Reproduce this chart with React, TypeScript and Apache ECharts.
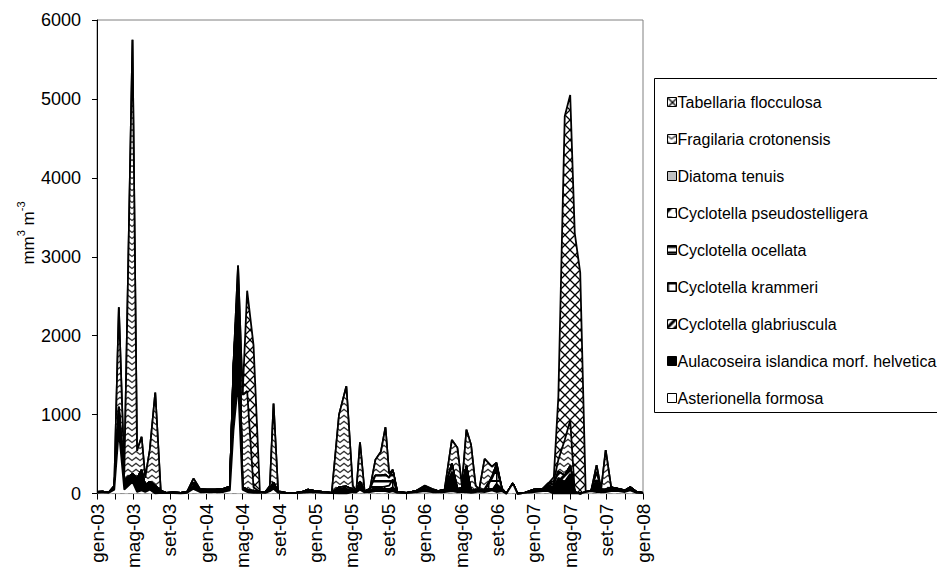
import React, { useEffect, useRef } from 'react';
import * as echarts from 'echarts';

// Sampling dates: months elapsed since 1 Jan 2003
const sampleMonths = [
  0, 0.6, 1.3, 1.9, 2.4, 3.0, 3.9, 4.4, 4.9, 5.3,
  5.8, 6.4, 7.0, 7.6, 8.4, 9.2, 9.9, 10.6, 11.3, 12.1,
  13.0, 13.9, 14.6, 15.0, 15.5, 16.0, 16.5, 17.2, 17.9, 18.5,
  19.0, 19.4, 19.9, 20.8, 21.7, 22.5, 23.2, 24.0, 24.8, 25.8,
  26.6, 27.4, 28.1, 28.5, 28.9, 29.4, 30.0, 30.6, 31.2, 31.7,
  32.1, 32.5, 33.0, 34.0, 35.0, 36.0, 36.8, 37.5, 38.2, 39.0,
  39.6, 40.1, 40.6, 41.1, 41.6, 42.0, 42.6, 43.4, 43.9, 44.5,
  45.0, 45.7, 46.2, 47.0, 48.0, 49.0, 49.6, 50.2, 50.7, 51.4,
  52.0, 52.5, 53.1, 53.7, 54.3, 54.9, 55.4, 55.9, 56.5, 57.3,
  58.0, 58.6, 59.3, 60.0,
];

const asterionella = [
  10, 15, 10, 50, 800, 50, 150, 20, 40, 20,
  50, 0, 10, 5, 5, 0, 10, 60, 20, 20,
  20, 20, 40, 800, 1400, 50, 20, 10, 10, 10,
  30, 60, 10, 5, 5, 10, 20, 15, 10, 5,
  0, 0, 20, 15, 50, 15, 20, 30, 30, 30,
  20, 30, 10, 5, 15, 30, 20, 15, 20, 30,
  20, 20, 20, 10, 20, 25, 20, 40, 20, 30,
  0, 130, 0, 10, 20, 30, 30, 0, 0, 0,
  0, 0, 0, 20, 30, 20, 20, 20, 30, 30,
  20, 40, 10, 5,
];

const aulacoseira = [
  10, 10, 5, 30, 150, 120, 100, 170, 260, 80,
  100, 100, 20, 5, 10, 10, 10, 40, 30, 30,
  30, 40, 50, 600, 900, 30, 30, 20, 10, 10,
  30, 80, 10, 5, 0, 10, 20, 15, 10, 5,
  60, 60, 30, 15, 100, 15, 20, 0, 0, 30,
  30, 50, 10, 5, 15, 30, 30, 15, 30, 250,
  40, 50, 330, 20, 30, 25, 20, 0, 100, 30,
  0, 0, 0, 0, 30, 30, 80, 80, 200, 150,
  250, 20, 0, 0, 0, 150, 30, 30, 50, 30,
  20, 40, 10, 5,
];

const glabriuscula = [
  0, 0, 0, 0, 100, 0, 0, 0, 0, 0,
  0, 0, 0, 0, 0, 0, 0, 40, 0, 0,
  0, 0, 0, 120, 200, 0, 0, 0, 0, 0,
  0, 0, 0, 0, 0, 0, 10, 0, 0, 0,
  20, 30, 0, 0, 0, 0, 0, 0, 0, 0,
  0, 0, 0, 0, 0, 20, 0, 0, 0, 100,
  0, 0, 0, 0, 0, 0, 0, 0, 0, 0,
  0, 0, 0, 0, 0, 0, 20, 30, 80, 80,
  100, 0, 0, 0, 0, 0, 0, 0, 0, 0,
  0, 0, 0, 0,
];

const krammeri = [
  0, 0, 0, 0, 50, 0, 0, 0, 0, 0,
  0, 0, 0, 0, 0, 0, 0, 0, 0, 0,
  0, 0, 0, 60, 100, 0, 0, 0, 0, 0,
  0, 0, 0, 0, 0, 0, 0, 0, 0, 0,
  0, 0, 0, 0, 0, 0, 0, 50, 50, 30,
  50, 100, 0, 0, 0, 0, 0, 0, 0, 0,
  0, 0, 0, 0, 0, 0, 0, 150, 200, 0,
  0, 0, 0, 0, 0, 0, 0, 0, 0, 0,
  0, 0, 0, 0, 0, 100, 0, 0, 0, 0,
  0, 0, 0, 0,
];

const ocellata = [
  0, 0, 0, 0, 0, 0, 0, 0, 0, 0,
  0, 0, 0, 0, 0, 0, 0, 0, 0, 0,
  0, 0, 0, 30, 50, 0, 0, 0, 0, 0,
  0, 0, 0, 0, 0, 0, 0, 0, 0, 0,
  0, 0, 0, 0, 0, 0, 20, 150, 150, 150,
  100, 120, 0, 0, 0, 0, 0, 0, 0, 0,
  0, 0, 0, 0, 0, 0, 0, 20, 50, 0,
  0, 0, 0, 0, 0, 0, 0, 0, 0, 0,
  0, 0, 0, 0, 0, 0, 0, 0, 0, 0,
  0, 0, 0, 0,
];

const pseudostelligera = [
  0, 0, 0, 0, 0, 0, 0, 0, 0, 0,
  0, 0, 0, 0, 0, 0, 0, 0, 0, 0,
  0, 0, 0, 0, 50, 0, 0, 0, 0, 0,
  0, 0, 0, 0, 0, 0, 0, 0, 0, 0,
  0, 0, 0, 0, 0, 0, 0, 0, 0, 0,
  0, 0, 0, 0, 0, 0, 0, 0, 0, 0,
  0, 0, 0, 0, 0, 0, 0, 0, 0, 0,
  0, 0, 0, 0, 0, 0, 0, 0, 0, 0,
  0, 0, 0, 0, 0, 0, 0, 0, 0, 0,
  0, 0, 0, 0,
];

const diatoma = [
  0, 0, 0, 0, 0, 0, 0, 0, 0, 0,
  0, 0, 0, 0, 0, 0, 0, 0, 0, 0,
  0, 0, 0, 0, 0, 0, 0, 0, 0, 0,
  0, 0, 0, 0, 0, 0, 0, 0, 0, 0,
  0, 0, 0, 0, 0, 0, 0, 0, 0, 0,
  0, 0, 0, 0, 0, 0, 0, 0, 0, 0,
  0, 0, 0, 0, 0, 0, 20, 0, 0, 0,
  0, 0, 0, 0, 0, 0, 0, 0, 0, 0,
  0, 0, 0, 0, 0, 0, 0, 0, 0, 0,
  0, 0, 0, 0,
];

const fragilaria = [
  0, 0, 0, 20, 1260, 80, 5500, 350, 420, 100,
  400, 1180, 10, 0, 0, 0, 0, 50, 10, 0,
  0, 0, 0, 30, 190, 1170, 1250, 50, 0, 0,
  40, 1000, 10, 0, 0, 0, 0, 0, 0, 0,
  920, 1270, 50, 0, 500, 0, 0, 200, 300, 600,
  50, 0, 0, 0, 0, 20, 10, 0, 0, 300,
  520, 30, 460, 590, 50, 0, 380, 130, 20, 0,
  0, 0, 0, 0, 0, 0, 0, 50, 150, 450,
  580, 0, 0, 0, 0, 90, 0, 500, 0, 0,
  0, 0, 0, 0,
];

const tabellaria = [
  0, 0, 0, 0, 0, 0, 0, 0, 0, 0,
  0, 0, 0, 0, 0, 0, 0, 0, 0, 0,
  0, 0, 0, 0, 0, 0, 1270, 1800, 0, 0,
  0, 0, 0, 0, 0, 0, 0, 0, 0, 0,
  0, 0, 0, 0, 0, 0, 0, 0, 0, 0,
  0, 0, 0, 0, 0, 0, 0, 0, 0, 0,
  0, 0, 0, 0, 0, 0, 0, 0, 0, 0,
  0, 0, 0, 0, 0, 0, 0, 50, 800, 4100,
  4120, 3280, 2800, 0, 0, 0, 0, 0, 0, 0,
  0, 0, 0, 0,
];

const xTickLabels = [
  'gen-03', 'mag-03', 'set-03', 'gen-04', 'mag-04', 'set-04', 'gen-05', 'mag-05',
  'set-05', 'gen-06', 'mag-06', 'set-06', 'gen-07', 'mag-07', 'set-07', 'gen-08',
];

// Legend order (top to bottom), stack is the reverse
const speciesNames = [
  'Tabellaria flocculosa',
  'Fragilaria crotonensis',
  'Diatoma tenuis',
  'Cyclotella pseudostelligera',
  'Cyclotella ocellata',
  'Cyclotella krammeri',
  'Cyclotella glabriuscula',
  'Aulacoseira islandica morf. helvetica',
  'Asterionella formosa',
];

const FONT = '"Liberation Sans", Arial, Helvetica, sans-serif';

function makePattern(w: number, h: number, draw: (ctx: CanvasRenderingContext2D) => void) {
  const c = document.createElement('canvas');
  c.width = w;
  c.height = h;
  const ctx = c.getContext('2d') as CanvasRenderingContext2D;
  ctx.fillStyle = '#ffffff';
  ctx.fillRect(0, 0, w, h);
  draw(ctx);
  return { image: c, repeat: 'repeat' } as any;
}

function buildFills(): any[] {
  const tab = makePattern(10, 10, (ctx) => {
    ctx.strokeStyle = '#000';
    ctx.lineWidth = 1.3;
    ctx.beginPath();
    ctx.moveTo(-2, -2); ctx.lineTo(12, 12);
    ctx.moveTo(12, -2); ctx.lineTo(-2, 12);
    ctx.stroke();
  });
  const fra = makePattern(8, 6, (ctx) => {
    ctx.strokeStyle = '#333';
    ctx.lineWidth = 1.3;
    ctx.beginPath();
    ctx.moveTo(-1, 0.5); ctx.lineTo(4, 4.5); ctx.lineTo(9, 0.5);
    ctx.stroke();
  });
  const dia = '#c0c0c0';
  const pse = makePattern(8, 8, (ctx) => {
    ctx.fillStyle = '#000';
    ctx.beginPath();
    ctx.moveTo(0, 0); ctx.lineTo(5, 0); ctx.lineTo(0, 5); ctx.closePath();
    ctx.fill();
  });
  const oce = makePattern(6, 6, (ctx) => {
    ctx.fillStyle = '#000';
    ctx.fillRect(0, 0, 6, 2.5);
  });
  const kra = makePattern(8, 8, (ctx) => {
    ctx.fillStyle = '#000';
    ctx.fillRect(0, 0, 8, 2);
    ctx.fillRect(0, 0, 1.5, 8);
  });
  const gla = makePattern(8, 8, (ctx) => {
    ctx.strokeStyle = '#000';
    ctx.lineWidth = 3;
    ctx.beginPath();
    ctx.moveTo(-2, 10); ctx.lineTo(10, -2);
    ctx.moveTo(-6, 6); ctx.lineTo(6, -6);
    ctx.moveTo(2, 14); ctx.lineTo(14, 2);
    ctx.stroke();
  });
  const aul = '#000000';
  const ast = '#ffffff';
  return [tab, fra, dia, pse, oce, kra, gla, aul, ast];
}

export default function App() {
  const ref = useRef<HTMLDivElement>(null);

  useEffect(() => {
    if (!ref.current) return;
    const chart = echarts.init(ref.current, null, { renderer: 'svg' });
    const fills = buildFills();

    // legend order -> values
    const valuesByLegend = [
      tabellaria, fragilaria, diatoma, pseudostelligera, ocellata,
      krammeri, glabriuscula, aulacoseira, asterionella,
    ];
    // cumulative stacking from bottom (last in legend) to top (first)
    const n = sampleMonths.length;
    const cumByLegend: number[][] = new Array(valuesByLegend.length);
    const running = new Array(n).fill(0);
    for (let k = valuesByLegend.length - 1; k >= 0; k--) {
      for (let i = 0; i < n; i++) running[i] += valuesByLegend[k][i];
      cumByLegend[k] = running.slice();
    }

    // draw top-most cumulative first so lower layers paint over it
    const series = speciesNames.map((name, k) => ({
      name,
      type: 'line',
      data: sampleMonths.map((m, i) => [m, cumByLegend[k][i]]),
      symbol: 'none',
      showSymbol: false,
      smooth: false,
      lineStyle: { color: '#000', width: 1.8 },
      itemStyle: { color: fills[k] },
      areaStyle: { color: fills[k], opacity: 1 },
      z: 2 + k,
      silent: true,
    }));

    const option: any = {
      animation: false,
      backgroundColor: '#ffffff',
      grid: {
        left: 97, top: 20, width: 546, height: 477,
        show: true, borderColor: '#808080', borderWidth: 1, backgroundColor: 'transparent',
      },
      xAxis: {
        type: 'value',
        min: 0, max: 60, interval: 2,
        axisLine: { show: true, onZero: false, lineStyle: { color: '#000', width: 1 } },
        axisTick: { show: true, inside: false, length: 6, lineStyle: { color: '#000' } },
        splitLine: { show: false },
        axisLabel: {
          rotate: 90,
          margin: 10,
          fontFamily: FONT,
          fontSize: 19,
          color: '#000',
          formatter: (v: number) => (Math.round(v) % 4 === 0 ? xTickLabels[Math.round(v) / 4] : ''),
        },
      },
      yAxis: {
        type: 'value',
        min: 0, max: 6000, interval: 1000,
        axisLine: { show: true, lineStyle: { color: '#000', width: 1 } },
        axisTick: { show: true, inside: false, length: 5, lineStyle: { color: '#000' } },
        splitLine: { show: false },
        axisLabel: {
          margin: 16, fontFamily: FONT, fontSize: 18, color: '#000',
          formatter: (v: number) => String(v),
        },
      },
      legend: {
        orient: 'vertical',
        left: 667,
        top: 94,
        padding: 0,
        icon: 'rect',
        itemWidth: 9,
        itemHeight: 9,
        itemGap: 21,
        selectedMode: false,
        textStyle: { fontFamily: FONT, fontSize: 16, color: '#000', lineHeight: 16, padding: [0, 0, 0, -4] },
        data: speciesNames.map((name, k) => ({
          name,
          icon: 'rect',
          itemStyle: { color: fills[k], borderColor: '#000', borderWidth: 1, opacity: 1 },
        })),
      },
      graphic: [
        {
          type: 'rect',
          shape: { x: 654.5, y: 78.5, width: 320, height: 334 },
          style: { fill: 'none', stroke: '#000', lineWidth: 1 },
          z: 10,
        },
        {
          type: 'text',
          x: 26,
          y: 233,
          rotation: Math.PI / 2,
          style: {
            text: '{a|mm}{s|3}{a| m}{s|-3}',
            align: 'center',
            verticalAlign: 'middle',
            fill: '#000',
            rich: {
              a: { fontFamily: FONT, fontSize: 17, lineHeight: 22, verticalAlign: 'bottom', fill: '#000' },
              s: { fontFamily: FONT, fontSize: 11, lineHeight: 22, verticalAlign: 'top', fill: '#000' },
            },
          },
          z: 10,
        },
      ],
      series,
    };

    chart.setOption(option);
    return () => chart.dispose();
  }, []);

  return (
    <div
      ref={ref}
      style={{ position: 'fixed', left: 0, top: 0, width: 937, height: 571, background: '#fff' }}
    />
  );
}
